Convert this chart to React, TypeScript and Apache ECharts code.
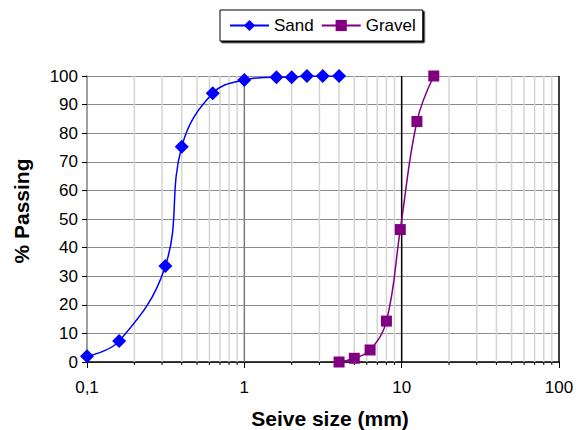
import React, { useEffect, useRef } from "react";
import * as echarts from "echarts";

const sandSize = [0.1, 0.16, 0.315, 0.4, 0.63, 1, 1.6, 2, 2.5, 3.15, 4];
const sandPass = [2, 7.3, 33.6, 75.3, 94, 98.6, 99.6, 99.6, 100, 100, 100];
const gravelSize = [4, 5, 6.3, 8, 9.8, 12.5, 16];
const gravelPass = [0, 1.3, 4.2, 14.3, 46.3, 84.1, 100];

const decades = [0.1, 1, 10];
const minorSteps = [2, 3, 4, 5, 6, 7, 8, 9];
const majorLines = [1, 10, 100];

export default function App() {
  const ref = useRef<HTMLDivElement>(null);
  useEffect(() => {
    if (!ref.current) return;
    const chart = echarts.init(ref.current, null, { renderer: "svg" });
    const minorVals: number[] = [];
    decades.forEach((d) => minorSteps.forEach((k) => minorVals.push(+(d * k).toPrecision(3))));
    const font = "'Liberation Sans', Arial, sans-serif";
    chart.setOption({
      animation: false,
      textStyle: { fontFamily: font },
      legend: {
        left: 220,
        top: 10,
        padding: [7, 7, 7, 9],
        itemGap: 7,
        itemWidth: 39,
        itemHeight: 14,
        borderColor: "#000",
        borderWidth: 1,
        backgroundColor: "#fff",
        shadowColor: "#000",
        shadowOffsetX: 1.5,
        shadowOffsetY: 1.5,
        shadowBlur: 0,
        textStyle: { fontSize: 17, color: "#000", fontFamily: font },
        data: ["Sand", "Gravel"],
      },
      grid: { left: 87, right: 17, top: 76, bottom: 68, containLabel: false, outerBoundsMode: "none" },
      xAxis: {
        type: "log",
        logBase: 10,
        min: 0.1,
        max: 100,
        name: "Seive size (mm)",
        nameLocation: "middle",
        nameGap: 46,
        nameTextStyle: { fontSize: 21, fontWeight: "bold", color: "#000", fontFamily: font, padding: [0, 0, 0, 14] },
        axisLine: { show: true, lineStyle: { color: "#000", width: 1.5 } },
        axisTick: { show: true, length: 6, lineStyle: { color: "#000" } },
        axisLabel: {
          fontSize: 17,
          color: "#000",
          margin: 17,
          formatter: (v: number) => String(+v.toPrecision(3)).replace(".", ","),
        },
        splitLine: { show: false },
      },
      yAxis: {
        type: "value",
        min: 0,
        max: 100,
        interval: 10,
        name: "% Passing",
        nameLocation: "middle",
        nameGap: 55,
        nameTextStyle: { fontSize: 21, fontWeight: "bold", color: "#000", fontFamily: font, padding: [0, 0, 0, 16] },
        axisLine: { show: true, lineStyle: { color: "#808080", width: 1.5 } },
        axisTick: { show: true, length: 5, lineStyle: { color: "#000" } },
        axisLabel: { fontSize: 17, color: "#000", margin: 9 },
        splitLine: { show: true, lineStyle: { color: "#8c8c8c", width: 1.2 } },
      },
      series: [
        {
          type: "custom",
          name: "minorGrid",
          silent: true,
          z: 1,
          clip: false,
          data: minorVals.map((v) => [v, 0]),
          renderItem: (_p: any, api: any) => {
            const x = api.value(0);
            const p0 = api.coord([x, 0]);
            const p1 = api.coord([x, 100]);
            return {
              type: "group",
              children: [
                {
                  type: "line",
                  shape: { x1: p0[0], y1: p0[1], x2: p1[0], y2: p1[1] },
                  style: { stroke: "#d4d4d4", lineWidth: 1.5 },
                },
                {
                  type: "line",
                  shape: { x1: p0[0], y1: p0[1], x2: p0[0], y2: p0[1] + 3 },
                  style: { stroke: "#000", lineWidth: 1 },
                },
              ],
            };
          },
        },
        {
          type: "custom",
          name: "majorGrid",
          silent: true,
          z: 2,
          clip: false,
          data: majorLines.map((v) => [v, 0]),
          renderItem: (_p: any, api: any) => {
            const x = api.value(0);
            const p0 = api.coord([x, 0]);
            const p1 = api.coord([x, 100]);
            return {
              type: "line",
              shape: { x1: p0[0], y1: p0[1], x2: p1[0], y2: p1[1] },
              style: { stroke: x < 5 ? "#7a7a7a" : "#000", lineWidth: 1.5 },
            };
          },
        },
        {
          type: "line",
          name: "Sand",
          z: 4,
          smooth: 0.4,
          data: sandSize.map((s, i) => [s, sandPass[i]]),
          symbol: "diamond",
          symbolSize: 14,
          itemStyle: { color: "#0000ff" },
          lineStyle: { color: "#0000ff", width: 1.5 },
        },
        {
          type: "line",
          name: "Gravel",
          z: 4,
          smooth: 0.4,
          data: gravelSize.map((s, i) => [s, gravelPass[i]]),
          symbol: "rect",
          symbolSize: 11,
          itemStyle: { color: "#800080" },
          lineStyle: { color: "#800080", width: 1.5 },
        },
      ],
    });
    return () => chart.dispose();
  }, []);
  return <div ref={ref} style={{ width: 576, height: 430, position: "absolute", left: 0, top: 0 }} />;
}
